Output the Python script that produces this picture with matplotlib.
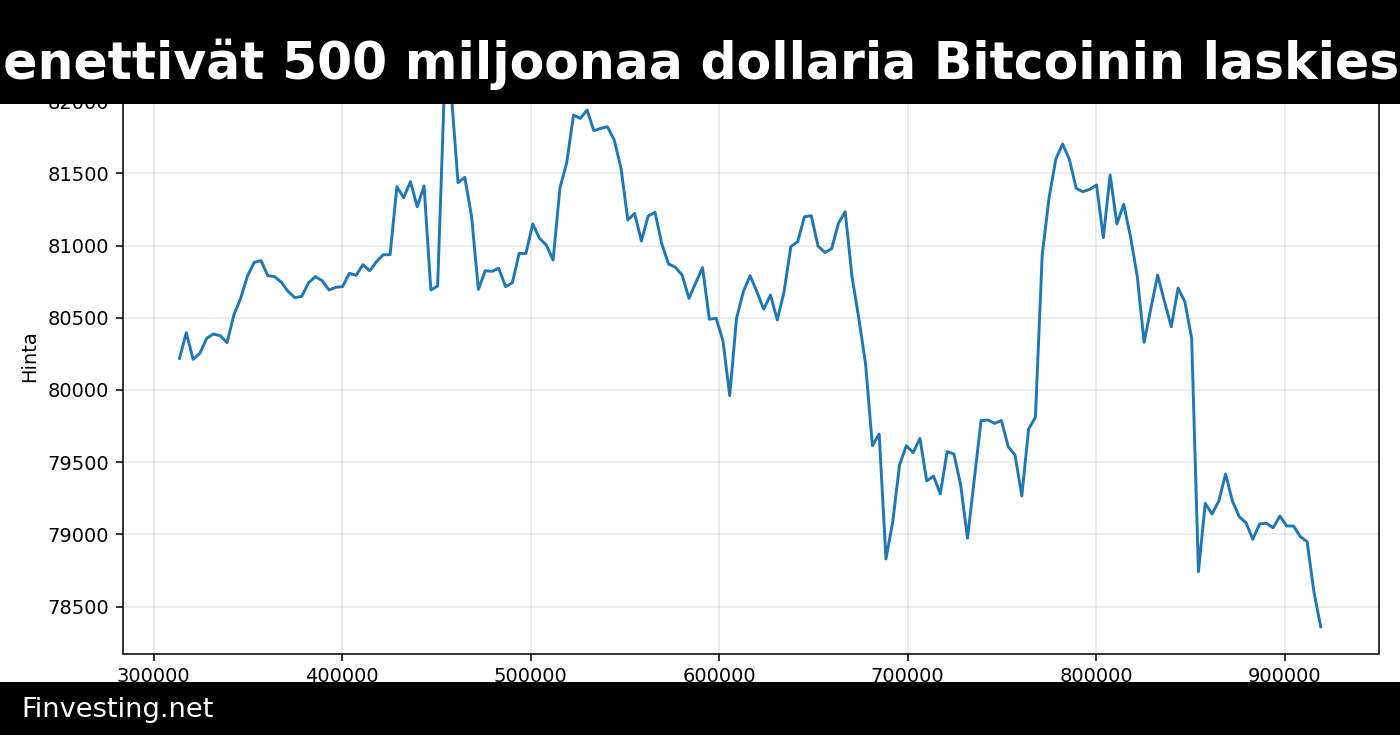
import numpy as np
import matplotlib
matplotlib.use("Agg")
import matplotlib.pyplot as plt
from matplotlib.patches import Rectangle

# ---- data ----
x_start = 313700
x_step = 3604
prices = [
    80219, 80397, 80212, 80254, 80358, 80388, 80376, 80328, 80519, 80635,
    80789, 80884, 80896, 80792, 80785, 80746, 80681, 80639, 80649, 80743,
    80785, 80757, 80693, 80711, 80716, 80808, 80794, 80868, 80826, 80889,
    80937, 80937, 81408, 81332, 81443, 81269, 81413, 80693, 80720, 82100,
    82060, 81436, 81473, 81200, 80697, 80826, 80822, 80843, 80716, 80743,
    80946, 80946, 81150, 81050, 81004, 80900, 81397, 81574, 81904, 81881,
    81939, 81796, 81812, 81823, 81731, 81535, 81177, 81223, 81032, 81205,
    81231, 81012, 80873, 80850, 80796, 80635, 80743, 80847, 80490, 80497,
    80342, 79961, 80497, 80681, 80792, 80681, 80559, 80658, 80485, 80681,
    80993, 81027, 81200, 81207, 80997, 80953, 80978, 81154, 81235, 80785,
    80497, 80180, 79614, 79695, 78830, 79088, 79481, 79614, 79566, 79665,
    79370, 79404, 79280, 79573, 79557, 79342, 78973, 79380, 79788, 79792,
    79769, 79788, 79607, 79550, 79266, 79730, 79811, 80935, 81327, 81598,
    81704, 81598, 81397, 81373, 81390, 81420, 81055, 81489, 81150, 81286,
    81062, 80785, 80330, 80566, 80796, 80612, 80438, 80706, 80612, 80358,
    78742, 79215, 79141, 79231, 79418, 79231, 79123, 79081, 78966, 79072,
    79077, 79046, 79127, 79058, 79058, 78984, 78950, 78603, 78360,
]
x_values = x_start + x_step * np.arange(len(prices))

title_full = "Sijoittajat menettivät 500 miljoonaa dollaria Bitcoinin laskiessa"
title_visible_start = "enettivät 500 miljoonaa dollaria Bitcoinin laskiessa"
footer_text = "Finvesting.net"
y_label = "Hinta"

# ---- figure ----
W, H = 1400, 735
fig = plt.figure(figsize=(10, 5.25), dpi=140)
ax = fig.add_axes([122.7 / W, (H - 653.5) / H, (1379.3 - 122.7) / W, (653.5 - 59.5) / H])

ax.plot(x_values, prices, color="#1f77b4", linewidth=1.5)
ax.set_xlim(283560, 950260)
ax.set_ylim(78175, 82289)
ax.grid(True, alpha=0.3)
ax.set_ylabel(y_label)
ax.ticklabel_format(useOffset=False, style="plain")

# top black banner
fig.patches.append(Rectangle((0, 1 - 104 / H), 1, 104 / H, transform=fig.transFigure,
                             facecolor="black", edgecolor="none", zorder=10))
# bottom black banner
fig.patches.append(Rectangle((0, 0), 1, 53 / H, transform=fig.transFigure,
                             facecolor="black", edgecolor="none", zorder=10))

# title placement: the visible part starts at the "e" near the left edge
fig.canvas.draw()
renderer = fig.canvas.get_renderer()
tmp_full = fig.text(0, 0.5, title_full, fontsize=26, fontweight="bold")
tmp_suf = fig.text(0, 0.5, title_visible_start, fontsize=26, fontweight="bold")
w_full = tmp_full.get_window_extent(renderer).width
w_suf = tmp_suf.get_window_extent(renderer).width
tmp_full.remove()
tmp_suf.remove()
x_left_px = 3.6 - (w_full - w_suf)

fig.text(x_left_px / W, (H - 79) / H, title_full, fontsize=26, fontweight="bold",
         color="white", ha="left", va="baseline", zorder=11)
fig.text(21 / W, (H - 717) / H, footer_text, fontsize=14, color="white",
         ha="left", va="baseline", zorder=11)

fig.savefig("out.png", dpi=140)
